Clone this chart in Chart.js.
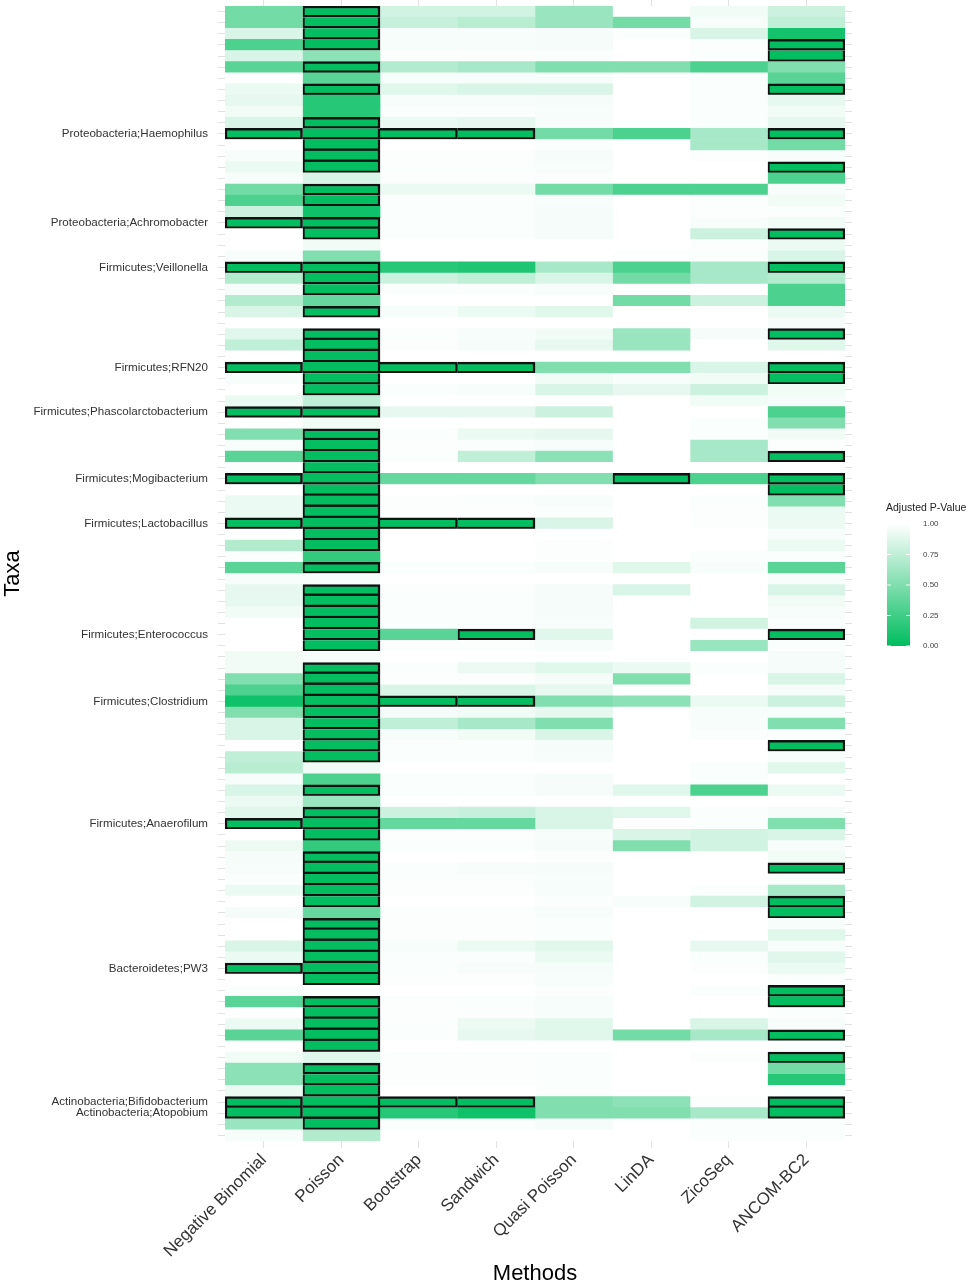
<!DOCTYPE html>
<html>
<head>
<meta charset="utf-8">
<script src="https://cdn.jsdelivr.net/npm/chart.js@4.4.1/dist/chart.umd.min.js"></script>
<style>
    html, body { margin: 0; padding: 0; background: #fff; }
    #wrap { width: 969px; height: 1287px; }
</style>
</head>
<body>
<div id="wrap"><canvas id="heatmap" width="969" height="1287"></canvas></div>
<script>
// methods (columns) and taxa (rows, top to bottom); only some rows carry a label
const methods = ['Negative Binomial', 'Poisson', 'Bootstrap', 'Sandwich', 'Quasi Poisson', 'LinDA', 'ZicoSeq', 'ANCOM-BC2'];

const taxa = [
    '', '', '', '', '', '', '', '', '', '',
    '', 'Proteobacteria;Haemophilus', '', '', '', '', '', '', '', 'Proteobacteria;Achromobacter',
    '', '', '', 'Firmicutes;Veillonella', '', '', '', '', '', '',
    '', '', 'Firmicutes;RFN20', '', '', '', 'Firmicutes;Phascolarctobacterium', '', '', '',
    '', '', 'Firmicutes;Mogibacterium', '', '', '', 'Firmicutes;Lactobacillus', '', '', '',
    '', '', '', '', '', '', 'Firmicutes;Enterococcus', '', '', '',
    '', '', 'Firmicutes;Clostridium', '', '', '', '', '', '', '',
    '', '', '', 'Firmicutes;Anaerofilum', '', '', '', '', '', '',
    '', '', '', '', '', '', 'Bacteroidetes;PW3', '', '', '',
    '', '', '', '', '', '', '', '', 'Actinobacteria;Bifidobacterium', 'Actinobacteria;Atopobium',
    '', ''
];

// adjusted p-values per method, one entry per taxon row
const negBinomial = [
    0.45, 0.45, 0.85, 0.30, 0.85, 0.35, 1.00, 0.92, 0.90, 0.95,
    0.85, 0.01, 1.00, 0.97, 0.92, 0.97, 0.45, 0.30, 0.80, 0.01,
    1.00, 1.00, 0.97, 0.01, 0.70, 0.96, 0.70, 0.85, 1.00, 0.88,
    0.75, 1.00, 0.01, 0.97, 1.00, 0.92, 0.01, 1.00, 0.50, 0.97,
    0.35, 0.98, 0.01, 1.00, 0.92, 0.92, 0.01, 1.00, 0.70, 0.98,
    0.35, 0.97, 0.90, 0.90, 0.95, 1.00, 1.00, 1.00, 0.95, 0.95,
    0.50, 0.30, 0.06, 0.50, 0.85, 0.85, 1.00, 0.75, 0.72, 0.97,
    0.85, 0.92, 0.88, 0.01, 1.00, 0.93, 0.96, 0.97, 0.98, 0.92,
    1.00, 0.96, 1.00, 1.00, 0.85, 0.92, 0.01, 1.00, 0.98, 0.35,
    1.00, 0.92, 0.35, 1.00, 0.95, 0.55, 0.55, 0.92, 0.01, 0.01,
    0.60, 0.97
];
const poisson = [
    0.01, 0.01, 0.01, 0.01, 0.55, 0.01, 0.35, 0.01, 0.15, 0.15,
    0.01, 0.01, 0.01, 0.01, 0.01, 0.85, 0.01, 0.01, 0.06, 0.01,
    0.01, 0.95, 0.50, 0.01, 0.01, 0.01, 0.40, 0.01, 1.00, 0.01,
    0.01, 0.01, 0.01, 0.01, 0.01, 0.75, 0.01, 0.95, 0.01, 0.01,
    0.01, 0.01, 0.01, 0.01, 0.01, 0.01, 0.01, 0.01, 0.01, 0.20,
    0.01, 0.97, 0.01, 0.01, 0.01, 0.01, 0.01, 0.01, 0.97, 0.01,
    0.01, 0.01, 0.01, 0.01, 0.01, 0.01, 0.01, 0.01, 0.95, 0.30,
    0.01, 0.60, 0.01, 0.01, 0.01, 0.20, 0.01, 0.01, 0.01, 0.01,
    0.01, 0.40, 0.01, 0.01, 0.01, 0.01, 0.01, 0.01, 0.98, 0.01,
    0.01, 0.01, 0.01, 0.01, 0.88, 0.01, 0.01, 0.01, 0.01, 0.01,
    0.01, 0.70
];
const bootstrap = [
    0.82, 0.78, 0.97, 0.97, 0.99, 0.70, 0.97, 0.88, 0.97, 0.98,
    0.92, 0.01, 1.00, 0.99, 0.98, 0.99, 0.92, 0.98, 0.98, 0.98,
    0.98, 1.00, 1.00, 0.15, 0.80, 0.98, 1.00, 0.97, 1.00, 0.98,
    0.99, 1.00, 0.01, 1.00, 0.98, 1.00, 0.90, 1.00, 0.98, 0.99,
    0.98, 1.00, 0.40, 1.00, 0.99, 0.99, 0.01, 1.00, 1.00, 1.00,
    0.98, 1.00, 0.98, 0.98, 0.98, 0.98, 0.35, 0.99, 1.00, 0.98,
    0.99, 0.85, 0.01, 0.96, 0.75, 0.97, 0.98, 0.98, 1.00, 0.98,
    0.98, 1.00, 0.80, 0.40, 0.99, 0.98, 1.00, 0.98, 0.98, 0.99,
    1.00, 0.98, 0.99, 0.99, 0.97, 0.98, 0.98, 0.99, 1.00, 0.99,
    0.99, 0.98, 0.98, 1.00, 0.99, 0.99, 0.99, 1.00, 0.01, 0.15,
    0.98, 1.00
];
const sandwich = [
    0.82, 0.72, 0.97, 0.97, 0.99, 0.65, 0.97, 0.85, 0.97, 0.98,
    0.90, 0.01, 1.00, 0.99, 0.98, 0.99, 0.92, 0.98, 0.98, 0.98,
    0.98, 1.00, 1.00, 0.12, 0.75, 0.98, 1.00, 0.92, 1.00, 0.97,
    0.96, 1.00, 0.01, 1.00, 0.97, 1.00, 0.90, 1.00, 0.92, 0.98,
    0.75, 1.00, 0.40, 1.00, 0.98, 0.99, 0.01, 1.00, 1.00, 1.00,
    0.98, 1.00, 0.98, 0.98, 0.98, 0.98, 0.01, 0.99, 1.00, 0.93,
    0.99, 0.85, 0.01, 0.95, 0.65, 0.95, 0.98, 0.98, 1.00, 0.98,
    0.98, 1.00, 0.78, 0.40, 0.99, 0.98, 1.00, 0.97, 0.98, 0.99,
    1.00, 0.98, 0.99, 0.99, 0.92, 0.98, 0.97, 0.99, 1.00, 0.98,
    0.99, 0.93, 0.90, 1.00, 0.99, 0.99, 0.99, 1.00, 0.01, 0.06,
    0.98, 1.00
];
const quasiPoisson = [
    0.60, 0.60, 0.96, 0.96, 0.98, 0.50, 0.97, 0.85, 0.96, 0.97,
    0.97, 0.45, 0.98, 0.96, 0.97, 0.98, 0.45, 0.97, 0.96, 0.96,
    0.96, 1.00, 1.00, 0.65, 0.85, 0.97, 1.00, 0.88, 1.00, 0.95,
    0.90, 1.00, 0.50, 0.95, 0.85, 1.00, 0.80, 1.00, 0.90, 0.97,
    0.55, 1.00, 0.50, 1.00, 0.97, 0.98, 0.85, 1.00, 0.99, 0.99,
    0.96, 1.00, 0.96, 0.96, 0.96, 0.97, 0.88, 0.97, 1.00, 0.88,
    0.96, 0.90, 0.50, 0.90, 0.50, 0.85, 0.96, 0.97, 1.00, 0.96,
    0.96, 1.00, 0.85, 0.85, 0.97, 0.96, 0.99, 0.96, 0.97, 0.97,
    0.98, 0.97, 0.98, 0.98, 0.88, 0.92, 0.96, 0.97, 0.99, 0.97,
    0.97, 0.88, 0.88, 1.00, 0.98, 0.98, 0.98, 0.99, 0.50, 0.50,
    0.96, 1.00
];
const linDA = [
    1.00, 0.45, 0.98, 1.00, 1.00, 0.50, 1.00, 1.00, 1.00, 1.00,
    1.00, 0.30, 1.00, 1.00, 1.00, 1.00, 0.30, 1.00, 1.00, 1.00,
    1.00, 1.00, 0.99, 0.30, 0.45, 1.00, 0.45, 1.00, 1.00, 0.60,
    0.60, 1.00, 0.50, 0.97, 0.90, 1.00, 1.00, 1.00, 1.00, 1.00,
    1.00, 1.00, 0.01, 1.00, 1.00, 1.00, 1.00, 1.00, 1.00, 1.00,
    0.88, 1.00, 0.85, 1.00, 1.00, 1.00, 1.00, 1.00, 1.00, 0.92,
    0.50, 1.00, 0.55, 1.00, 1.00, 1.00, 1.00, 1.00, 1.00, 1.00,
    0.88, 1.00, 0.88, 1.00, 0.85, 0.50, 1.00, 1.00, 1.00, 1.00,
    0.97, 1.00, 1.00, 1.00, 1.00, 1.00, 1.00, 1.00, 1.00, 1.00,
    1.00, 1.00, 0.45, 1.00, 1.00, 1.00, 1.00, 1.00, 0.55, 0.50,
    1.00, 1.00
];
const zicoSeq = [
    0.95, 0.97, 0.85, 0.99, 0.98, 0.30, 0.98, 0.98, 0.98, 0.98,
    0.98, 0.65, 0.65, 0.99, 1.00, 1.00, 0.30, 0.99, 0.99, 0.97,
    0.80, 0.99, 0.98, 0.65, 0.65, 1.00, 0.80, 1.00, 1.00, 0.96,
    1.00, 1.00, 0.85, 0.95, 0.80, 0.95, 1.00, 0.98, 0.98, 0.65,
    0.65, 1.00, 0.30, 1.00, 0.98, 0.99, 0.99, 1.00, 1.00, 0.98,
    0.97, 1.00, 1.00, 1.00, 1.00, 0.82, 1.00, 0.60, 1.00, 0.98,
    1.00, 1.00, 0.92, 0.97, 0.97, 0.98, 1.00, 1.00, 0.98, 0.98,
    0.30, 1.00, 0.98, 0.98, 0.82, 0.82, 1.00, 1.00, 1.00, 0.98,
    0.82, 1.00, 1.00, 1.00, 0.90, 0.98, 0.99, 1.00, 0.98, 1.00,
    1.00, 0.85, 0.65, 1.00, 0.99, 1.00, 1.00, 1.00, 0.98, 0.65,
    0.98, 0.98
];
const ancomBC2 = [
    0.80, 0.75, 0.08, 0.01, 0.01, 0.50, 0.35, 0.01, 0.90, 0.95,
    0.90, 0.01, 0.45, 0.97, 0.01, 0.30, 0.97, 0.95, 0.98, 0.95,
    0.01, 0.92, 0.85, 0.01, 0.70, 0.30, 0.30, 0.92, 0.96, 0.01,
    0.88, 1.00, 0.01, 0.01, 0.95, 0.96, 0.30, 0.50, 0.95, 0.99,
    0.01, 1.00, 0.01, 0.01, 0.50, 0.92, 0.93, 0.97, 0.92, 0.98,
    0.35, 0.97, 0.85, 0.95, 0.97, 0.98, 0.01, 0.98, 0.96, 0.96,
    0.85, 0.96, 0.80, 0.97, 0.50, 0.98, 0.01, 0.97, 0.88, 1.00,
    0.92, 1.00, 0.96, 0.50, 0.85, 0.97, 0.95, 0.01, 0.98, 0.65,
    0.01, 0.01, 0.97, 0.88, 0.97, 0.88, 0.92, 0.98, 0.01, 0.01,
    0.98, 0.97, 0.01, 0.98, 0.01, 0.45, 0.15, 0.98, 0.01, 0.01,
    0.98, 0.98
];

const legendTicks = [1.00, 0.75, 0.50, 0.25, 0.00];

const pValues = [negBinomial, poisson, bootstrap, sandwich, quasiPoisson, linDA, zicoSeq, ancomBC2];
const SIG_LEVEL = 0.05;
const LOW = [0, 189, 94];      // colour at p = 0
const HIGH = [255, 255, 255];  // colour at p = 1
const FONT = "'Liberation Sans', Arial, sans-serif";

Chart.defaults.font.family = FONT;

function pColor(p) {
    const t = Math.max(0, Math.min(1, p));
    const c = LOW.map((v, i) => Math.round(v + (HIGH[i] - v) * t));
    return `rgb(${c[0]}, ${c[1]}, ${c[2]})`;
}

function isSig(m, r) {
    return m >= 0 && r >= 0 && r < taxa.length && pValues[m][r] < SIG_LEVEL;
}

// one stacked segment per cell, so the column position comes from the x scale
const datasets = methods.map((name, m) => ({
    label: name,
    data: taxa.map(() => 1),
    backgroundColor: pValues[m].map(pColor),
    borderColor: '#111',
    borderSkipped: false,
    borderWidth: ctx => {
        const r = ctx.dataIndex;
        if (!isSig(m, r)) return 0;
        const w = 2.5;
        return {
            top: isSig(m, r - 1) ? 0 : w,
            bottom: w,
            left: isSig(m - 1, r) ? 0 : w,
            right: w
        };
    },
    barPercentage: 1,
    categoryPercentage: 1
}));

const columnTicks = scale => {
    scale.ticks = methods.map((name, i) => ({ value: i + 0.5 }));
};

const noPadding = scale => {
    scale.paddingTop = 0;
    scale.paddingBottom = 0;
    scale.paddingLeft = 0;
    scale.paddingRight = 0;
};

const colorbarLegend = {
    id: 'colorbarLegend',
    afterDraw(chart) {
        const ctx = chart.ctx;
        const x = 887, w = 23, top = 524, bottom = 646;
        ctx.save();

        ctx.fillStyle = '#222';
        ctx.font = `10.5px ${FONT}`;
        ctx.textAlign = 'left';
        ctx.textBaseline = 'middle';
        ctx.fillText('Adjusted P-Value', 886, 508);

        const grad = ctx.createLinearGradient(0, top, 0, bottom);
        grad.addColorStop(0, pColor(1));
        grad.addColorStop(1, pColor(0));
        ctx.fillStyle = grad;
        ctx.fillRect(x, top - 2, w, bottom - top + 2);

        ctx.font = `8px ${FONT}`;
        ctx.fillStyle = '#444';
        legendTicks.forEach(v => {
            const y = bottom - (bottom - top) * v;
            ctx.strokeStyle = 'rgba(255,255,255,0.9)';
            ctx.lineWidth = 1;
            ctx.beginPath();
            ctx.moveTo(x, y); ctx.lineTo(x + 4, y);
            ctx.moveTo(x + w - 4, y); ctx.lineTo(x + w, y);
            ctx.stroke();
            ctx.fillText(v.toFixed(2), 923, y);
        });
        ctx.restore();
    }
};

const tickGrid = { drawOnChartArea: false, drawTicks: true, tickLength: 7, color: '#e2e2e2', lineWidth: 1 };

new Chart(document.getElementById('heatmap'), {
    type: 'bar',
    data: { labels: taxa, datasets: datasets },
    options: {
        indexAxis: 'y',
        responsive: false,
        animation: false,
        layout: { padding: 0 },
        plugins: {
            legend: { display: false },
            tooltip: { enabled: false }
        },
        scales: {
            x: {
                type: 'linear',
                stacked: true,
                min: 0,
                max: methods.length,
                afterBuildTicks: columnTicks,
                border: { display: false },
                grid: tickGrid,
                ticks: {
                    autoSkip: false,
                    minRotation: 45,
                    maxRotation: 45,
                    padding: 2,
                    color: '#333',
                    font: { size: 17 },
                    callback: (value, index) => methods[index]
                },
                title: {
                    display: true,
                    text: 'Methods',
                    color: '#000',
                    font: { size: 22 },
                    padding: { top: 0, bottom: 0 }
                },
                afterFit: scale => { noPadding(scale); scale.height = 146; }
            },
            xTop: {
                type: 'linear',
                position: 'top',
                min: 0,
                max: methods.length,
                afterBuildTicks: columnTicks,
                border: { display: false },
                grid: Object.assign({}, tickGrid, { tickLength: 6 }),
                ticks: { display: false },
                afterFit: scale => { noPadding(scale); scale.height = 6; }
            },
            y: {
                type: 'category',
                stacked: true,
                offset: true,
                border: { display: false },
                grid: Object.assign({}, tickGrid, { offset: false }),
                ticks: {
                    autoSkip: false,
                    padding: 10,
                    color: '#333',
                    font: { size: 11.6 }
                },
                title: {
                    display: true,
                    text: 'Taxa',
                    color: '#000',
                    font: { size: 22 },
                    padding: { top: 0, bottom: 0 }
                },
                afterFit: scale => { noPadding(scale); scale.width = 225; }
            },
            yRight: {
                type: 'category',
                position: 'right',
                offset: true,
                border: { display: false },
                grid: Object.assign({}, tickGrid, { offset: false }),
                ticks: { display: false },
                afterFit: scale => { noPadding(scale); scale.width = 124; }
            }
        }
    },
    plugins: [colorbarLegend]
});
</script>
</body>
</html>
